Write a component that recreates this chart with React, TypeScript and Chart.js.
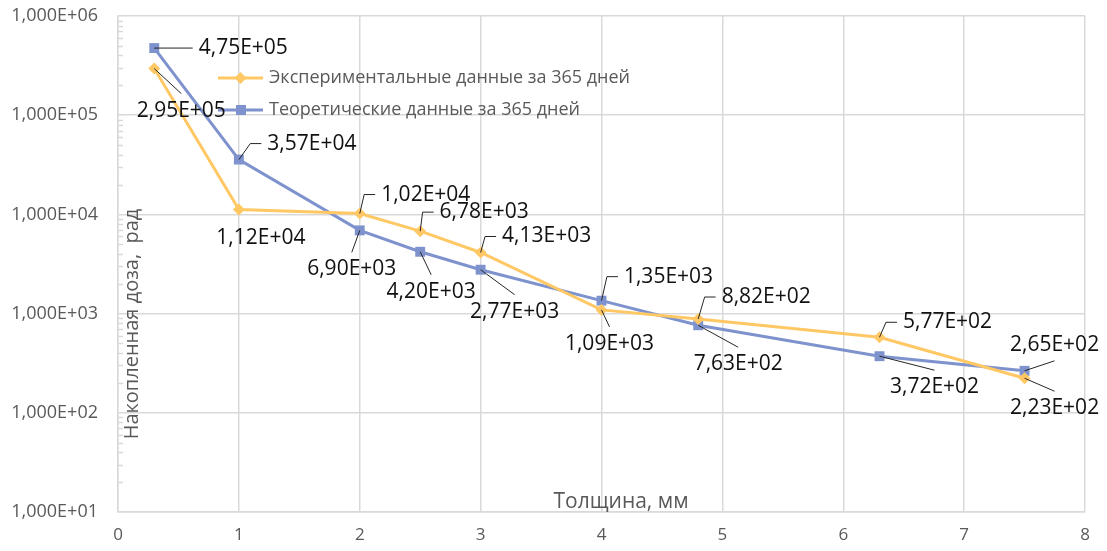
import React, { useEffect, useRef } from 'react';
import { Chart, registerables } from 'chart.js';

Chart.register(...registerables);

// Thickness of the shielding layer, mm
const thickness = [0.3, 1, 2, 2.5, 3, 4, 4.8, 6.3, 7.5];
// Accumulated dose over 365 days, rad
const experimentalDose = [2.95e5, 1.12e4, 1.02e4, 6.78e3, 4.13e3, 1.09e3, 8.82e2, 5.77e2, 2.23e2];
const theoreticalDose = [4.75e5, 3.57e4, 6.9e3, 4.2e3, 2.77e3, 1.35e3, 7.63e2, 3.72e2, 2.65e2];

const seriesNames = ['Экспериментальные данные за 365 дней', 'Теоретические данные за 365 дней'];
const xTickValues = [0, 1, 2, 3, 4, 5, 6, 7, 8];
const yTickValues = [1e1, 1e2, 1e3, 1e4, 1e5, 1e6];
const xTitle = 'Толщина, мм';
const yTitle = 'Накопленная доза,  рад';

// Placement of each value label relative to its point: [dx, dy, draw leader line]
const experimentalLabelPlacement: [number, number, boolean][] = [
  [27, 42, true], [22, 28, false], [66, -19, true], [64, -19, true], [66, -16, true],
  [8, 34, true], [68, -22, true], [68, -15, true], [30, 30, true],
];
const theoreticalLabelPlacement: [number, number, boolean][] = [
  [89, 0, true], [73, -16, true], [-8, 39, true], [11, 40, true], [34, 42, true],
  [67, -24, true], [40, 39, true], [55, 31, true], [30, -26, true],
];

const YELLOW = '#FFC864';
const BLUE = '#7E92CE';
const GRID = '#D9D9D9';
const AXIS_TEXT = '#595959';
const FONT = '"Open Sans", "Liberation Sans", sans-serif';

// 4.75e5 -> "4,75E+05"
function sci(v: number, digits: number): string {
  const [m, e] = v.toExponential(digits).split('e');
  const n = parseInt(e, 10);
  return m.replace('.', ',') + 'E' + (n < 0 ? '-' : '+') + String(Math.abs(n)).padStart(2, '0');
}

const isPow10 = (v: number) => Math.abs(Math.log10(v) - Math.round(Math.log10(v))) < 1e-9;

const decorPlugin = {
  id: 'decor',
  beforeDatasetsDraw(chart: any) {
    const { ctx, chartArea, scales } = chart;
    const y = scales.y;
    ctx.save();
    // minor ticks on the inside of the value axis
    ctx.strokeStyle = GRID;
    ctx.lineWidth = 1.5;
    ctx.beginPath();
    for (let p = 1; p < 6; p++) {
      for (let k = 2; k <= 9; k++) {
        const py = Math.round(y.getPixelForValue(k * Math.pow(10, p))) + 0.5;
        ctx.moveTo(chartArea.left, py);
        ctx.lineTo(chartArea.left + 5, py);
      }
    }
    ctx.stroke();

    // axis titles
    ctx.fillStyle = AXIS_TEXT;
    ctx.textAlign = 'center';
    ctx.textBaseline = 'middle';
    ctx.font = `20px ${FONT}`;
    ctx.save();
    ctx.translate(chartArea.left + 14, chartArea.top + 308);
    ctx.rotate(-Math.PI / 2);
    ctx.fillText(yTitle, 0, 0);
    ctx.restore();
    ctx.font = `21px ${FONT}`;
    ctx.fillText(xTitle, chartArea.left + 503, chartArea.bottom - 10);
    ctx.restore();
  },
  afterDatasetsDraw(chart: any) {
    const { ctx, chartArea } = chart;
    ctx.save();

    // legend inside the plot
    const legendItems = [
      { name: seriesNames[0], color: YELLOW, style: 'diamond' },
      { name: seriesNames[1], color: BLUE, style: 'square' },
    ];
    legendItems.forEach((it, i) => {
      const ly = chartArea.top + 62 + i * 32;
      const lx = chartArea.left + 100;
      ctx.strokeStyle = it.color;
      ctx.lineWidth = 3;
      ctx.beginPath();
      ctx.moveTo(lx, ly);
      ctx.lineTo(lx + 45, ly);
      ctx.stroke();
      ctx.fillStyle = it.color;
      ctx.beginPath();
      if (it.style === 'diamond') {
        ctx.moveTo(lx + 22.5, ly - 6);
        ctx.lineTo(lx + 28.5, ly);
        ctx.lineTo(lx + 22.5, ly + 6);
        ctx.lineTo(lx + 16.5, ly);
        ctx.closePath();
      } else {
        ctx.rect(lx + 18, ly - 5, 10, 10);
      }
      ctx.fill();
      ctx.fillStyle = AXIS_TEXT;
      ctx.font = `18px ${FONT}`;
      ctx.textAlign = 'left';
      ctx.textBaseline = 'middle';
      ctx.fillText(it.name, lx + 51, ly);
    });

    // value labels with leader lines
    const sets = [
      { values: experimentalDose, place: experimentalLabelPlacement },
      { values: theoreticalDose, place: theoreticalLabelPlacement },
    ];
    ctx.font = `21px ${FONT}`;
    ctx.textAlign = 'center';
    ctx.textBaseline = 'middle';
    sets.forEach((set, di) => {
      const meta = chart.getDatasetMeta(di);
      meta.data.forEach((pt: any, i: number) => {
        const text = sci(set.values[i], 2);
        const [dx, dy, leader] = set.place[i];
        const cx = pt.x + dx;
        const cy = pt.y + dy;
        const w = ctx.measureText(text).width;
        const h = 20;
        const left = cx - w / 2;
        const top = cy - h / 2;
        const bottom = cy + h / 2;
        if (leader) {
          ctx.strokeStyle = '#262626';
          ctx.lineWidth = 1;
          ctx.beginPath();
          if (left - pt.x > 15) {
            ctx.moveTo(pt.x, pt.y);
            if (Math.abs(cy - pt.y) > 2) ctx.lineTo(left - 17, cy);
            ctx.lineTo(left - 6, cy);
          } else if (top > pt.y) {
            ctx.moveTo(pt.x, pt.y);
            ctx.lineTo(cx, top - 7);
          } else {
            ctx.moveTo(pt.x, pt.y);
            ctx.lineTo(cx, bottom + 6);
          }
          ctx.stroke();
        }
        ctx.fillStyle = '#111111';
        ctx.fillText(text, cx, cy);
      });
    });
    ctx.restore();
  },
};

export default function App() {
  const canvasRef = useRef<HTMLCanvasElement | null>(null);

  useEffect(() => {
    const canvas = canvasRef.current;
    if (!canvas) return;
    const chart = new Chart(canvas, {
      type: 'line',
      data: {
        datasets: [
          {
            label: seriesNames[0],
            data: thickness.map((x, i) => ({ x, y: experimentalDose[i] })),
            borderColor: YELLOW,
            backgroundColor: YELLOW,
            borderWidth: 3,
            pointStyle: 'rectRot',
            pointRadius: 6,
            pointBorderWidth: 0,
            tension: 0,
          },
          {
            label: seriesNames[1],
            data: thickness.map((x, i) => ({ x, y: theoreticalDose[i] })),
            borderColor: BLUE,
            backgroundColor: BLUE,
            borderWidth: 3,
            pointStyle: 'rect',
            pointRadius: 7,
            pointBorderWidth: 0,
            tension: 0,
          },
        ],
      },
      options: {
        responsive: false,
        animation: false,
        layout: { padding: { left: 0, right: 22, top: 16, bottom: 0 } },
        plugins: {
          legend: { display: false },
          tooltip: { enabled: false },
        },
        scales: {
          x: {
            type: 'linear',
            min: 0,
            max: 8,
            afterBuildTicks: (scale: any) => {
              scale.ticks = xTickValues.map((v) => ({ value: v }));
            },
            afterFit: (scale: any) => {
              scale.height = 39;
              scale.paddingLeft = 0;
              scale.paddingRight = 0;
            },
            ticks: {
              color: AXIS_TEXT,
              font: { family: FONT, size: 17 },
              padding: 13,
              callback: (v: any) => String(v),
            },
            grid: { color: GRID, lineWidth: 1.5, drawTicks: false },
            border: { color: GRID, width: 1.5 },
          },
          y: {
            type: 'logarithmic',
            min: 10,
            max: 1e6,
            afterBuildTicks: (scale: any) => {
              scale.ticks = yTickValues.map((v) => ({ value: v }));
            },
            afterFit: (scale: any) => {
              scale.width = 118;
              scale.paddingTop = 0;
              scale.paddingBottom = 0;
            },
            ticks: {
              color: AXIS_TEXT,
              font: { family: FONT, size: 18 },
              padding: 20,
              callback: (v: any) => (isPow10(Number(v)) ? sci(Number(v), 3) : ''),
            },
            grid: { color: GRID, lineWidth: 1.5, drawTicks: false },
            border: { color: GRID, width: 1.5 },
          },
        },
      },
      plugins: [decorPlugin],
    });
    return () => chart.destroy();
  }, []);

  return (
    <div style={{ position: 'fixed', left: 0, top: 0, width: 1107, height: 551, background: '#fff' }}>
      <canvas ref={canvasRef} width={1107} height={551} style={{ width: 1107, height: 551 }} />
    </div>
  );
}
